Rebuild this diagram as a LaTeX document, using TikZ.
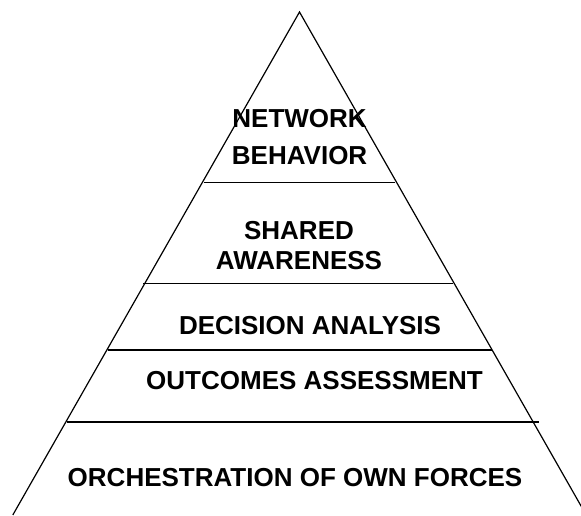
\documentclass[tikz,border=0pt]{standalone}
\usepackage{fontspec}
\setmainfont{Liberation Sans}
\tikzset{
    side/.style={draw=black, line width=1.2pt},
    tier/.style={draw=black, line width=1.3pt},
    lbl/.style={inner sep=0pt, align=center, font=\bfseries\fontsize{26}{30}\selectfont},
}

\begin{document}
\begin{tikzpicture}[x=1pt, y=-1pt]
        \useasboundingbox (0,0) rectangle (581,515);

        % outline of the pyramid
        \coordinate (apex) at (299.5,12);
        \coordinate (bl) at (12.8,515);
        \coordinate (br) at (586.2,515);
        \draw [side] (bl) -- (apex) -- (br);

        % tier boundaries
        \coordinate (t1l) at (204,182.5);
        \coordinate (t1r) at (395,182.5);
        \coordinate (t2l) at (143,283.5);
        \coordinate (t2r) at (453,283.5);
        \coordinate (t3l) at (108,350);
        \coordinate (t3r) at (492,350);
        \coordinate (t4l) at (67,422);
        \coordinate (t4r) at (539,422);

        \draw [tier] (t1l) -- (t1r);
        \draw [tier] (t2l) -- (t2r);
        \draw [tier] (t3l) -- (t3r);
        \draw [tier] (t4l) -- (t4r);

        \node [lbl, font=\bfseries\fontsize{26}{37}\selectfont] (net) at (299.6,137.5) {NETWORK\\BEHAVIOR};
        \node [lbl] (shared) at (299,246) {SHARED\\AWARENESS};
        \node [lbl] (decision) at (310,326) {DECISION ANALYSIS};
        \node [lbl] (outcomes) at (314.5,381) {OUTCOMES ASSESSMENT};
        \node [lbl] (orch) at (295,477.5) {ORCHESTRATION OF OWN FORCES};
    \end{tikzpicture}
\end{document}
